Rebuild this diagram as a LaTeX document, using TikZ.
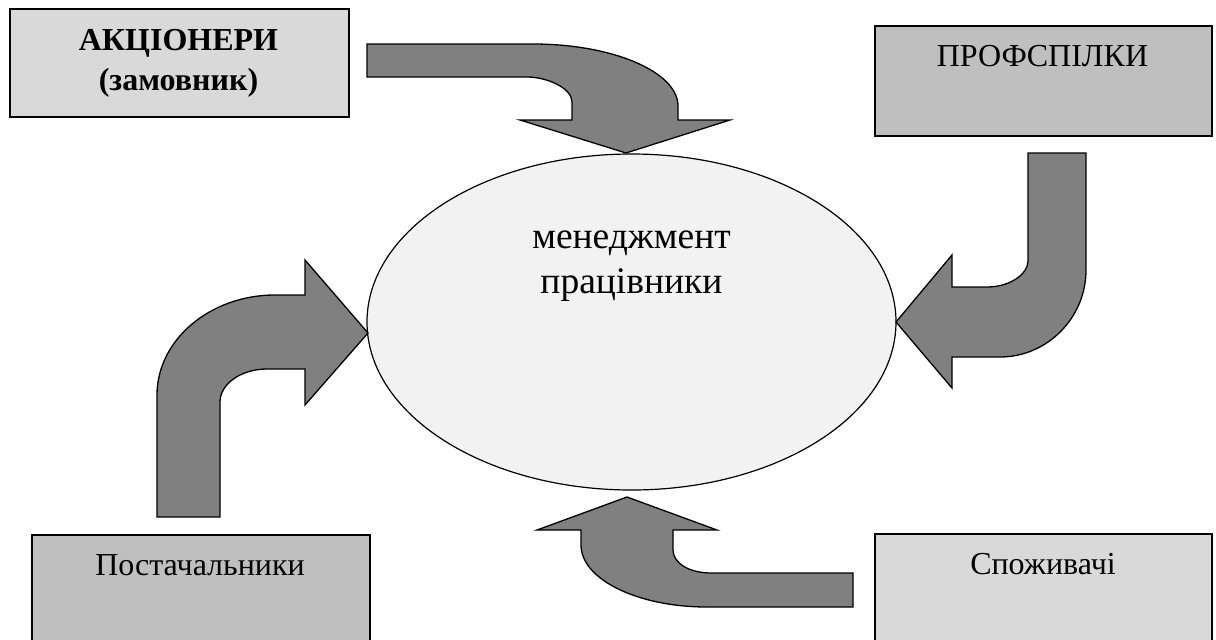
\documentclass[tikz,border=0pt]{standalone}
\usepackage{fontspec}
\setmainfont{Liberation Serif}
\usetikzlibrary{shapes.geometric}
\definecolor{boxlight}{HTML}{D9D9D9}
\definecolor{boxmid}{HTML}{BFBFBF}
\definecolor{ellfill}{HTML}{F2F2F2}
\definecolor{arrfill}{HTML}{808080}
\begin{document}
\begin{tikzpicture}[x=1pt,y=-1pt,
  box/.style={draw=black, line width=1.5pt, rectangle, anchor=north west, inner sep=0pt},
  bigarrow/.style={draw=black, fill=arrfill, line width=1.3pt, line join=miter},
  txt/.style={anchor=base, inner sep=0pt, font=\fontsize{32}{40}\selectfont},
  etxt/.style={anchor=base, inner sep=0pt, font=\fontsize{37.5}{45}\selectfont}]
\useasboundingbox (0,0) rectangle (1216,640);
\fill[white] (0,0) rectangle (1216,640);

% boxes
\node[box, fill=boxlight, minimum width=339pt, minimum height=108pt] (b1) at (9,8) {};
\node[box, fill=boxmid, minimum width=337pt, minimum height=110pt] (b2) at (874,25) {};
\node[box, fill=boxmid, minimum width=338pt, minimum height=120pt] (b3) at (31,534) {};
\node[box, fill=boxlight, minimum width=337pt, minimum height=120pt] (b4) at (874,533) {};

\node[txt, font=\fontsize{32}{40}\bfseries] (t1a) at (178.5,50) {АКЦІОНЕРИ};
\node[txt, font=\fontsize{32}{40}\bfseries] (t1b) at (178.5,90) {(замовник)};
\node[txt] (t2) at (1042.5,66) {ПРОФСПІЛКИ};
\node[txt] (t3) at (200,575) {Постачальники};
\node[txt] (t4) at (1043,574) {Споживачі};

% ellipse
\node[ellipse, draw=black, line width=1.2pt, fill=ellfill, minimum width=529pt, minimum height=336pt, inner sep=0pt] (m) at (631.5,322) {};
\node[etxt] (m1) at (631.5,248) {менеджмент};
\node[etxt] (m2) at (631.5,293) {працівники};

% arrow 1 (top)
\draw[bigarrow] (367,44) -- (533,44) .. controls (613,44) and (678,72) .. (678,106)
  -- (678,120) -- (730,120) -- (626,153) -- (520,120) -- (572,120) -- (572,102)
  .. controls (572,88) and (547,77) .. (527,77) -- (367,77) -- cycle;

% arrow 2 (right)
\draw[bigarrow] (1028,153) -- (1086,153) -- (1086,270)
  .. controls (1086,318) and (1047,357) .. (1000,357)
  -- (952,357) -- (952,388) -- (896,322) -- (952,255) -- (952,287) -- (987,287)
  .. controls (1010,287) and (1028,274) .. (1028,261) -- cycle;

% arrow 3 (left)
\draw[bigarrow] (157,517) -- (157,395) .. controls (157,340) and (210,295) .. (275,295)
  -- (305,295) -- (305,260) -- (368,333) -- (305,405) -- (305,369) -- (267,369)
  .. controls (241,369) and (220,384) .. (220,402) -- (220,517) -- cycle;

% arrow 4 (bottom)
\draw[bigarrow] (853,573) -- (711,573) .. controls (689,573) and (673,563) .. (673,550)
  -- (673,530) -- (717,530) -- (627,497) -- (537,530) -- (581,530) -- (581,545)
  .. controls (581,579) and (637,607) .. (707,607) -- (853,607) -- cycle;
\end{tikzpicture}
\end{document}
